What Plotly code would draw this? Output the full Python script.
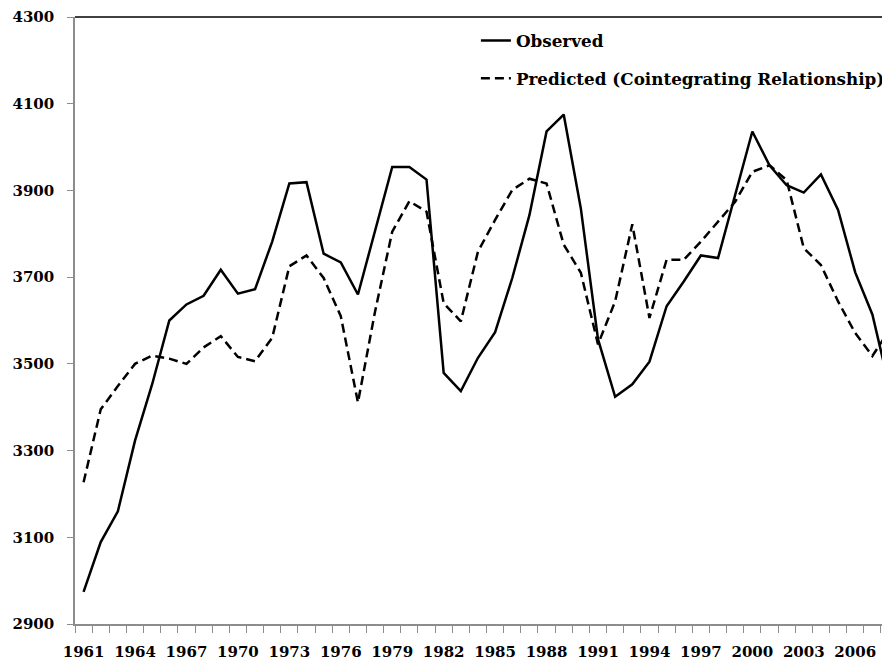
import plotly.graph_objects as go

years = list(range(1961, 2009))

observed = [2974, 3089, 3160, 3323, 3453, 3600, 3637, 3657, 3717, 3662,
            3672, 3782, 3916, 3919, 3754, 3734, 3660, 3805, 3954, 3954,
            3925, 3479, 3437, 3514, 3573, 3698, 3843, 4036, 4075, 3858,
            3557, 3424, 3453, 3505, 3633, 3690, 3750, 3744, 3890, 4036,
            3958, 3912, 3895, 3937, 3855, 3711, 3614, 3445]

predicted = [3227, 3395, 3449, 3500, 3519, 3512, 3500, 3538, 3564, 3516,
             3506, 3560, 3725, 3750, 3698, 3610, 3411, 3621, 3805, 3875,
             3851, 3640, 3598, 3759, 3832, 3901, 3927, 3916, 3775, 3710,
             3545, 3644, 3822, 3606, 3740, 3740, 3782, 3828, 3874, 3943,
             3958, 3924, 3767, 3728, 3644, 3571, 3518, 3579]

y_ticks = list(range(2900, 4301, 200))
x_ticks = list(range(1961, 2009, 3))

font_family = "DejaVu Serif"

fig = go.Figure()
fig.add_trace(go.Scatter(
    x=years, y=observed, mode="lines", name="Observed",
    line=dict(color="black", width=2.5), legendgroup="a"))
fig.add_trace(go.Scatter(
    x=years, y=predicted, mode="lines", name="Predicted (Cointegrating Relationship)",
    line=dict(color="black", width=2.5, dash="9px,5px"), legendgroup="b"))

fig.update_layout(
    width=882, height=654,
    margin=dict(l=67, r=0, t=6, b=38),
    paper_bgcolor="white", plot_bgcolor="white",
    font=dict(family=font_family, color="black", size=14),
    showlegend=True,
    legend=dict(x=0.4925, y=0.99, xanchor="left", yanchor="top",
                bgcolor="rgba(0,0,0,0)", tracegroupgap=13,
                font=dict(family=font_family, size=16.8, weight="bold"),
                itemwidth=30),
    xaxis=dict(
        range=[1960.5, 2007.97], tickmode="array", tickvals=x_ticks,
        ticktext=[str(v) for v in x_ticks],
        ticks="outside", ticklen=7, tickcolor="rgba(0,0,0,0)",
        showgrid=False, zeroline=False,
        showline=True, linecolor="#8c8c8c", linewidth=1.5,
        tickfont=dict(family=font_family, size=15, weight="bold"),
        ticklabelstandoff=6,
        minor=dict(ticks="outside", ticklen=7, tickcolor="#8c8c8c",
                   tick0=1960.5, dtick=1, showgrid=False),
    ),
    yaxis=dict(
        range=[2900, 4300], tickmode="array", tickvals=y_ticks,
        ticks="outside", ticklen=6, tickcolor="#8c8c8c",
        showgrid=False, zeroline=False,
        showline=True, linecolor="#8c8c8c", linewidth=1.5,
        tickfont=dict(family=font_family, size=15, weight="bold"),
        ticklabelstandoff=10, ticklabeloverflow="allow",
    ),
)

fig.add_shape(type="line", xref="paper", yref="paper", x0=0, x1=1, y0=1, y1=1,
              line=dict(color="black", width=1.5))

fig.write_html("out.html")
